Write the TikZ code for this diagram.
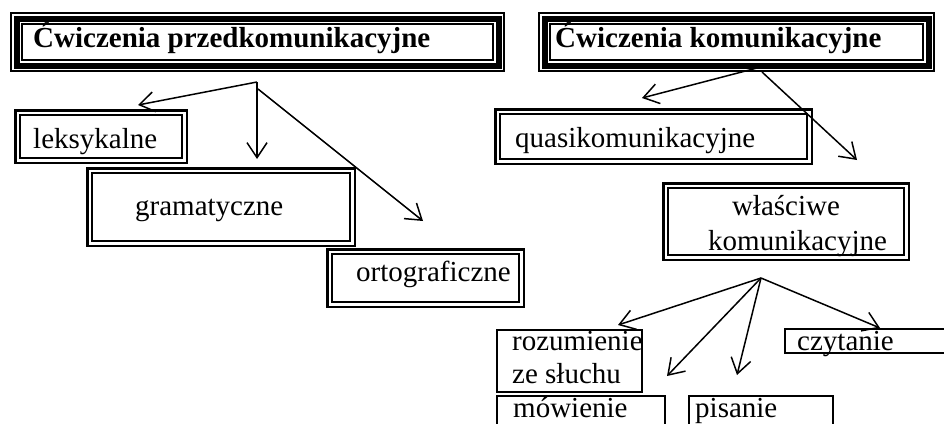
\documentclass[tikz,border=0pt]{standalone}
\usepackage{fontspec}
\setmainfont{Liberation Serif}
\usetikzlibrary{arrows.meta}
\tikzset{
  boxn/.style={anchor=north west, inner sep=0pt, outer sep=0pt},
  thinb/.style={line width=2pt},
  thickb/.style={line width=6pt},
  outb/.style={line width=2.5pt},
  singleb/.style={draw, line width=1.5pt},
  lab/.style={anchor=base west, inner sep=0pt, font=\fontsize{29}{35}\selectfont},
  blab/.style={lab, font=\fontsize{29}{35}\selectfont\bfseries},
  arr/.style={line width=1.5pt, -{Straight Barb[length=15pt,width=20pt]}}
}
\newcommand{\mytri}[1]{%
  \draw[thinb] ([shift={(1,1)}]#1.north west) rectangle ([shift={(-1,-1)}]#1.south east);
  \draw[thickb] ([shift={(6.5,6.5)}]#1.north west) rectangle ([shift={(-6.5,-6.5)}]#1.south east);
  \draw[thinb] ([shift={(12,12)}]#1.north west) rectangle ([shift={(-12,-12)}]#1.south east);}
\newcommand{\mydbl}[1]{%
  \draw[outb] ([shift={(1.25,1.25)}]#1.north west) rectangle ([shift={(-1.25,-1.25)}]#1.south east);
  \draw[thinb] ([shift={(6,6)}]#1.north west) rectangle ([shift={(-6,-6)}]#1.south east);}
\begin{document}
\begin{tikzpicture}[x=1pt, y=-1pt]
\useasboundingbox (0,0) rectangle (944,423);
\fill[white] (0,0) rectangle (944,423);
\clip (0,0) rectangle (944,423);

% boxes
\node[boxn, minimum width=495pt, minimum height=60pt] (t1) at (10,12) {};
\node[boxn, minimum width=397pt, minimum height=60pt] (t2) at (538,12) {};
\node[boxn, minimum width=174pt, minimum height=55pt] (lek) at (14,109) {};
\node[boxn, minimum width=270pt, minimum height=80pt] (gram) at (86,167) {};
\node[boxn, minimum width=199pt, minimum height=60pt] (orto) at (326,248) {};
\node[boxn, minimum width=319pt, minimum height=57pt] (quasi) at (494,108) {};
\node[boxn, minimum width=248pt, minimum height=79pt] (wlas) at (662,182) {};
\node[boxn, singleb, minimum width=145pt, minimum height=62pt] (rozum) at (497,330) {};
\node[boxn, singleb, minimum width=168pt, minimum height=50pt] (mow) at (497,396) {};
\node[boxn, singleb, minimum width=144pt, minimum height=50pt] (pis) at (689,396) {};
\node[boxn, singleb, minimum width=180pt, minimum height=24pt] (czyt) at (785,329) {};

\mytri{t1}
\mytri{t2}
\mydbl{lek}
\mydbl{gram}
\mydbl{orto}
\mydbl{quasi}
\mydbl{wlas}

% texts
\node[blab] (t1t) at (33,47) {Ćwiczenia przedkomunikacyjne};
\node[blab] (t2t) at (555,47) {Ćwiczenia komunikacyjne};
\node[lab] (lekt) at (33,148) {leksykalne};
\node[lab] (gramt) at (135,215) {gramatyczne};
\node[lab] (ortot) at (356,281) {ortograficzne};
\node[lab] (quasit) at (515,147) {quasikomunikacyjne};
\node[lab, anchor=base] (wlast1) at (786,215) {właściwe};
\node[lab] (wlast2) at (708,250) {komunikacyjne};
\node[lab] (rozt1) at (512,350) {rozumienie};
\node[lab] (rozt2) at (512,383) {ze słuchu};
\node[lab] (mowt) at (513,417) {mówienie};
\node[lab] (pist) at (695,417) {pisanie};
\node[lab] (czyt) at (797,350) {czytanie};

% arrow coordinates
\coordinate (a0) at (257,82);
\coordinate (a0b) at (258,89);
\coordinate (a1) at (138,105);
\coordinate (a2) at (257,159);
\coordinate (a3) at (423,221);
\coordinate (b0) at (757,68);
\coordinate (b0b) at (762,72);
\coordinate (b1) at (642,98);
\coordinate (b2) at (857,160);
\coordinate (c0) at (761,278);
\coordinate (c1) at (618,325);
\coordinate (c2) at (667,376);
\coordinate (c3) at (737,375);
\coordinate (c4) at (880,328);

\draw[arr] (a0) -- (a1);
\draw[arr] (a0) -- (a2);
\draw[arr] (a0b) -- (a3);
\draw[arr] (b0) -- (b1);
\draw[arr] (b0b) -- (b2);
\draw[arr] (c0) -- (c1);
\draw[arr] (c0) -- (c2);
\draw[arr] (c0) -- (c3);
\draw[arr] (c0) -- (c4);
\end{tikzpicture}
\end{document}
